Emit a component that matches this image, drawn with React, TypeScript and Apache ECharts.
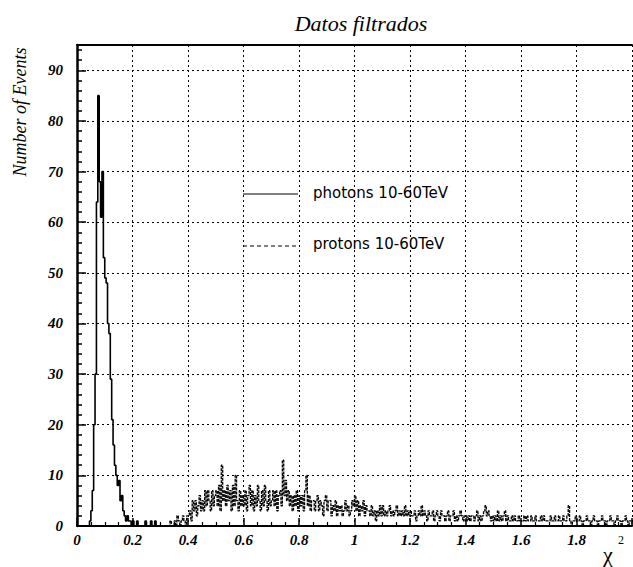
import React, { useEffect, useRef } from "react";
import * as echarts from "echarts";

const titleText = "Datos filtrados";
const yAxisName = "Number of Events";
const legendLabels = ["photons 10-60TeV", "protons 10-60TeV"];

const binWidth = 0.005;
const photonStart = 0.04;
const photonCounts = [
  0, 1, 3, 7, 20, 30, 64, 85, 68, 61, 70, 53, 49, 48, 40, 38, 29, 21, 16, 12,
  10, 8, 9, 5, 6, 3, 2, 1, 2, 1, 1, 0, 1, 0, 0, 1, 0, 0, 0, 0,
  0, 1, 0, 0, 0, 1, 0, 0, 1, 0, 0, 0, 0,
];

const protonStart = 0.33;
const protonCounts = [
  0, 1, 0, 0, 1, 0, 2, 1, 0, 1, 2, 1, 0, 2,
  2, 3, 1, 5, 3, 5, 2, 4, 6, 3,
  5, 3, 7, 4, 7, 5, 3, 7, 4, 6,
  7, 4, 8, 3, 12, 5, 7, 4, 8, 5,
  7, 3, 8, 4, 10, 5, 3, 7, 4, 6,
  4, 7, 3, 6, 8, 4, 7, 3, 6, 4,
  8, 5, 3, 7, 4, 8, 5, 3, 7, 4,
  5, 7, 4, 7, 3, 6, 7, 4, 13, 6,
  9, 5, 7, 4, 6, 3, 6, 4, 7, 3,
  6, 4, 6, 3, 7, 10, 4, 6, 3, 5,
  5, 3, 5, 6, 3, 5, 4, 2, 5, 6,
  3, 5, 5, 2, 4, 3, 5, 2, 4, 3,
  4, 2, 3, 5, 3, 4, 2, 3, 5, 4,
  6, 3, 5, 2, 4, 3, 5, 2, 4, 3,
  3, 2, 4, 2, 3, 1, 3, 2, 4, 2,
  4, 2, 3, 2, 3, 4, 2, 3, 2, 3, 4, 2, 3, 2, 3, 2, 4, 2, 3, 2,
  3, 2, 2, 3, 1, 2, 3, 2, 4, 2, 3, 2, 1, 3, 2, 2, 3, 1, 2, 3,
  2, 1, 3, 2, 2, 1, 2, 3, 1, 2, 2, 3, 1, 2, 1, 2, 3, 2, 1, 2,
  2, 1, 2, 1, 2, 2, 1, 2, 3, 1, 2, 1, 2, 3, 4, 2, 3, 2, 1, 2,
  1, 2, 1, 3, 1, 2, 1, 2, 3, 1, 2, 1, 1, 2, 1, 2, 1, 1, 2, 1,
  1, 1, 2, 1, 2, 1, 1, 2, 1, 1, 2, 1, 1, 1, 2, 1, 2, 1, 1, 1,
  1, 2, 1, 1, 2, 1, 1, 2, 1, 1, 2, 1, 1, 2, 4, 1, 0, 1, 1, 2,
  1, 1, 2, 1, 0, 1, 1, 2, 1, 1, 0, 1, 2, 1, 1, 0, 1, 1, 2, 1,
  1, 0, 1, 1, 2, 1, 1, 0, 1, 2, 1, 1, 0, 1, 1, 2, 1, 0, 1, 1,
];

const xMin = 0;
const xMax = 2;
const xInterval = 0.2;
const yMin = 0;
const yMax = 95;
const yInterval = 10;

function toSteps(start: number, counts: number[]) {
  const pts: number[][] = [[start, 0]];
  counts.forEach((c, i) => pts.push([+(start + i * binWidth).toFixed(4), c]));
  pts.push([+(start + counts.length * binWidth).toFixed(4), 0]);
  return pts;
}

const serif = "'Liberation Serif', 'Times New Roman', serif";
const sans = "'DejaVu Sans', sans-serif";

export default function App() {
  const ref = useRef<HTMLDivElement>(null);
  useEffect(() => {
    document.body.style.margin = "0";
    if (!ref.current) return;
    const chart = echarts.init(ref.current, null, { renderer: "svg" });
    const gridStyle = { color: "#000", width: 1, type: [2, 3] as any };
    chart.setOption({
      animation: false,
      backgroundColor: "#fff",
      title: {
        text: titleText,
        left: 356,
        textAlign: "center",
        top: 7,
        textStyle: { fontFamily: serif, fontStyle: "italic", fontWeight: "normal", fontSize: 22, color: "#000" },
      },
      grid: { left: 77, right: 1, top: 45, bottom: 41, containLabel: false },
      xAxis: [
        {
          type: "value",
          min: xMin,
          max: xMax,
          interval: xInterval,
          position: "bottom",
          axisLine: { show: true, lineStyle: { color: "#000", width: 2 } },
          axisTick: { show: true, inside: true, length: 8, lineStyle: { color: "#000", width: 1.5 } },
          minorTick: { show: true, splitNumber: 4, length: 4, lineStyle: { color: "#000", width: 1.2 } },
          axisLabel: {
            margin: 6,
            showMaxLabel: false,
            fontFamily: serif,
            fontStyle: "italic",
            fontWeight: "bold",
            fontSize: 15,
            color: "#000",
            formatter: (v: number) => (v >= 2 ? "" : String(+v.toFixed(1))),
          },
          splitLine: { show: true, lineStyle: gridStyle },
        },
        {
          type: "value",
          min: xMin,
          max: xMax,
          position: "top",
          axisLine: { show: true, lineStyle: { color: "#000", width: 2 } },
          axisTick: { show: false },
          axisLabel: { show: false },
          splitLine: { show: false },
        },
      ],
      yAxis: {
        type: "value",
        min: yMin,
        max: yMax,
        interval: yInterval,
        axisLine: { show: true, lineStyle: { color: "#000", width: 2.5 } },
        axisTick: { show: true, inside: true, length: 9, lineStyle: { color: "#000", width: 1.5 } },
        minorTick: { show: true, splitNumber: 5, length: 5, lineStyle: { color: "#000", width: 1.5 } },
        axisLabel: {
          margin: 14,
          showMaxLabel: false,
          fontFamily: serif,
          fontStyle: "italic",
          fontWeight: "bold",
          fontSize: 15,
          color: "#000",
          formatter: (v: number) => (v > 90 ? "" : String(v)),
        },
        splitLine: { show: true, lineStyle: gridStyle },
      },
      series: [
        {
          name: legendLabels[1],
          type: "line",
          step: "end",
          data: toSteps(protonStart, protonCounts),
          symbol: "none",
          lineStyle: { color: "#000", width: 1.3, type: [3, 1] },
          silent: true,
        },
        {
          name: legendLabels[0],
          type: "line",
          step: "end",
          data: toSteps(photonStart, photonCounts),
          symbol: "none",
          lineStyle: { color: "#000", width: 1.6 },
          silent: true,
        },
      ],
      graphic: [
        {
          type: "text",
          x: 20,
          y: 112,
          rotation: Math.PI / 2,
          style: {
            text: yAxisName,
            fontFamily: serif,
            fontStyle: "italic",
            fontSize: 18,
            fill: "#000",
            textAlign: "center",
            textVerticalAlign: "middle",
          },
        },
        {
          type: "line",
          shape: { x1: 243, y1: 194, x2: 298, y2: 194 },
          style: { stroke: "#000", lineWidth: 1 },
        },
        {
          type: "text",
          x: 313,
          y: 193,
          style: { text: legendLabels[0], fontFamily: sans, fontSize: 15, fill: "#000", textVerticalAlign: "middle" },
        },
        {
          type: "line",
          shape: { x1: 243, y1: 246, x2: 298, y2: 246 },
          style: { stroke: "#000", lineWidth: 1, lineDash: [4, 3] },
        },
        {
          type: "text",
          x: 313,
          y: 244,
          style: { text: legendLabels[1], fontFamily: sans, fontSize: 15, fill: "#000", textVerticalAlign: "middle" },
        },
        {
          type: "text",
          x: 603,
          y: 554,
          style: { text: "χ", fontFamily: serif, fontSize: 22, fill: "#000", textVerticalAlign: "middle" },
        },
        {
          type: "text",
          x: 618,
          y: 540,
          style: { text: "2", fontFamily: serif, fontSize: 12, fill: "#000", textVerticalAlign: "middle" },
        },
      ],
    });
    return () => chart.dispose();
  }, []);
  return <div ref={ref} style={{ width: 633, height: 567 }} />;
}
